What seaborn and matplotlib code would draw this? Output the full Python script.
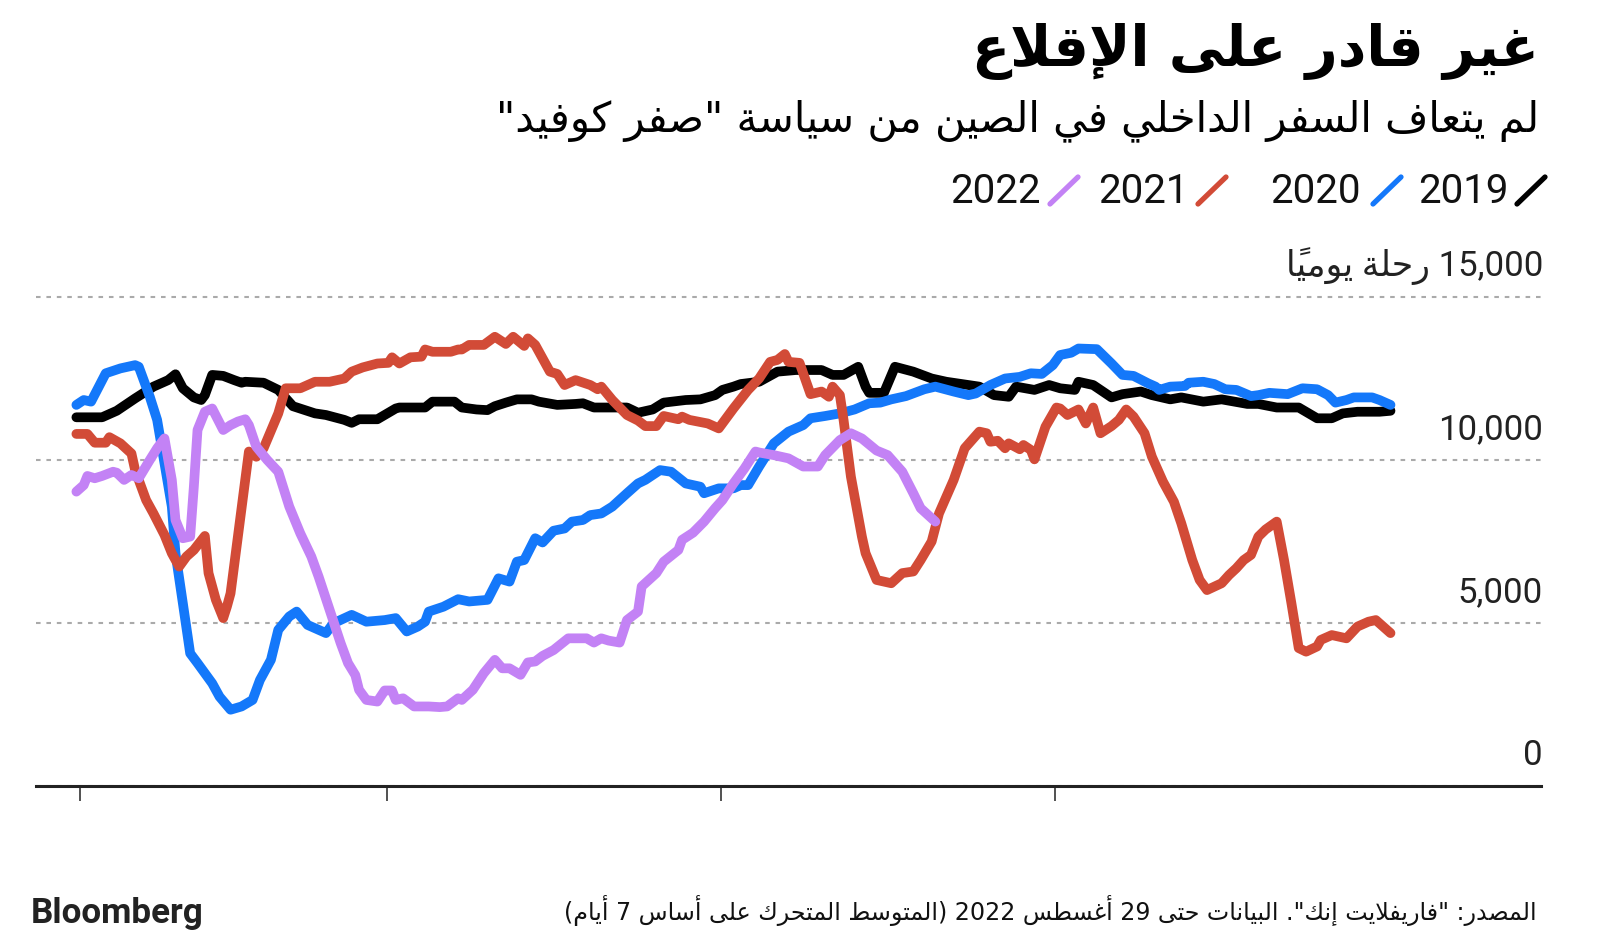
import re
import numpy as np
import pandas as pd
import matplotlib
matplotlib.use("Agg")
import matplotlib.pyplot as plt
import matplotlib.transforms as mtransforms
from matplotlib.lines import Line2D
import seaborn as sns

# ---------------- data ----------------
years = ["2019", "2020", "2021", "2022"]
colors = ["#000000", "#1478fa", "#d24b37", "#c382f5"]

days_2019 = [0, 7, 11, 16, 21, 25, 27, 29, 32, 34, 35, 37, 40, 43, 45, 46, 51, 55, 59, 65,
             68, 73, 75, 77, 82, 87, 88, 95, 97, 103, 105, 109, 112, 114, 117, 120, 124, 126, 131, 136,
             138, 141, 150, 153, 157, 160, 166, 170, 174, 176, 179, 181, 186, 191, 196, 203, 206, 209, 213, 215,
             216, 220, 223, 228, 233, 237, 243, 246, 250, 254, 256, 261, 265, 268, 272, 273, 277, 282, 285, 290,
             293, 298, 301, 307, 312, 319, 322, 327, 333, 338, 342, 345, 349, 355, 358]
vals_2019 = [11310, 11310, 11510, 11890, 12250, 12450, 12630, 12200, 11920, 11840,
             11990, 12610, 12580, 12450, 12370, 12400, 12370, 12150, 11650, 11430,
             11380, 11230, 11140, 11250, 11250, 11580, 11610, 11610, 11790, 11790,
             11610, 11550, 11530, 11650, 11760, 11860, 11860, 11790, 11690, 11720,
             11740, 11610, 11610, 11450, 11550, 11760, 11840, 11860, 11990, 12150,
             12250, 12330, 12400, 12710, 12760, 12760, 12610, 12610, 12860, 12250,
             12060, 12060, 12860, 12710, 12500, 12400, 12300, 12250, 11990, 11940,
             12250, 12150, 12300, 12200, 12150, 12400, 12300, 11920, 12020, 12100,
             11990, 11860, 11920, 11790, 11860, 11720, 11720, 11610, 11610, 11280,
             11280, 11430, 11480, 11480, 11510]

days_2020 = [0, 2, 4, 8, 12, 16, 17, 20, 22, 24, 26, 27, 29, 31, 33, 37, 39, 42, 45, 48,
             50, 53, 55, 58, 60, 63, 65, 68, 70, 75, 79, 84, 87, 90, 93, 95, 96, 100, 104, 107,
             112, 115, 118, 120, 122, 125, 127, 130, 133, 135, 138, 140, 143, 146, 150, 153, 155, 159, 162, 166,
             170, 171, 175, 179, 181, 183, 186, 190, 194, 198, 200, 204, 208, 212, 216, 219, 222, 226, 231, 234,
             239, 243, 245, 249, 253, 257, 260, 263, 266, 268, 271, 273, 278, 282, 285, 288, 292, 294, 295, 298,
             302, 303, 307, 310, 313, 316, 320, 322, 325, 330, 334, 338, 341, 343, 346, 348, 353, 355, 358]
vals_2020 = [11690, 11840, 11790, 12660, 12810, 12910, 12860, 11940, 11230, 9900,
             8570, 7140, 5610, 4070, 3770, 3150, 2740, 2340, 2440, 2640,
             3250, 3870, 4790, 5200, 5350, 4940, 4840, 4690, 4990, 5250,
             5040, 5090, 5150, 4740, 4890, 5040, 5350, 5500, 5730, 5660,
             5710, 6370, 6270, 6880, 6930, 7600, 7470, 7830, 7900, 8110,
             8160, 8310, 8360, 8570, 8980, 9280, 9390, 9690, 9640, 9280,
             9180, 8980, 9130, 9130, 9230, 9230, 9800, 10510, 10870, 11070,
             11280, 11350, 11430, 11550, 11740, 11760, 11860, 11960, 12170, 12250,
             12100, 11990, 12040, 12300, 12500, 12550, 12660, 12640, 12910, 13220,
             13290, 13420, 13400, 12960, 12610, 12580, 12350, 12250, 12150, 12250,
             12270, 12370, 12400, 12330, 12170, 12150, 11960, 11990, 12060, 12020,
             12200, 12170, 11990, 11760, 11840, 11920, 11920, 11840, 11690]

days_2021 = [0, 3, 5, 8, 9, 12, 15, 16, 19, 21, 24, 26, 28, 30, 32, 35, 36, 38, 40, 41,
             42, 44, 46, 47, 49, 51, 55, 57, 61, 65, 69, 73, 75, 78, 82, 85, 86, 88, 91, 94,
             95, 97, 102, 104, 105, 107, 111, 114, 117, 119, 122, 123, 125, 129, 131, 133, 136, 140, 142, 143,
             146, 150, 153, 155, 158, 160, 164, 165, 167, 172, 175, 179, 183, 186, 189, 191, 193, 194, 197, 200,
             203, 205, 206, 208, 209, 211, 214, 215, 218, 222, 225, 228, 230, 233, 235, 239, 242, 246, 248, 249,
             251, 253, 254, 257, 258, 260, 261, 264, 267, 268, 270, 273, 275, 277, 279, 282, 284, 286, 288, 291,
             293, 296, 299, 301, 304, 306, 308, 312, 314, 316, 318, 320, 322, 324, 327, 329, 331, 333, 335, 338,
             339, 342, 346, 349, 352, 354, 358]
vals_2021 = [10800, 10800, 10530, 10530, 10700, 10510, 10200, 9690, 8770, 8360,
             7700, 7140, 6730, 7040, 7240, 7670, 6530, 5710, 5150, 5500,
             5910, 7650, 9390, 10260, 10100, 10360, 11430, 12200, 12200, 12400,
             12400, 12500, 12710, 12840, 12960, 12980, 13150, 12960, 13150, 13170,
             13390, 13320, 13320, 13390, 13390, 13530, 13530, 13780, 13560, 13780,
             13500, 13730, 13530, 12710, 12640, 12300, 12450, 12300, 12170, 12250,
             11840, 11380, 11210, 11040, 11040, 11350, 11250, 11330, 11230, 11120,
             10970, 11580, 12150, 12500, 13010, 13070, 13250, 13010, 12980, 12020,
             12100, 11940, 12250, 11990, 11230, 9490, 7650, 7140, 6320, 6220,
             6530, 6580, 6930, 7500, 8360, 9390, 10360, 10870, 10820, 10560,
             10590, 10360, 10510, 10330, 10460, 10310, 10020, 11020, 11610, 11580,
             11380, 11550, 11120, 11610, 10820, 11040, 11230, 11550, 11330, 10820,
             10100, 9340, 8720, 8060, 6930, 6320, 6010, 6220, 6470, 6680,
             6930, 7090, 7650, 7870, 8110, 6930, 5610, 4230, 4120, 4280,
             4480, 4630, 4530, 4890, 5040, 5090, 4690]

days_2022 = [0, 2, 3, 5, 7, 10, 11, 13, 15, 17, 20, 22, 24, 26, 27, 29, 31, 32, 33, 35,
             37, 40, 42, 44, 46, 47, 49, 52, 55, 58, 61, 64, 66, 69, 72, 74, 76, 77, 79, 82,
             84, 86, 87, 89, 92, 96, 99, 101, 104, 105, 108, 111, 114, 116, 118, 121, 123, 125, 127, 130,
             134, 139, 141, 143, 145, 148, 150, 153, 154, 158, 160, 164, 165, 168, 171, 174, 176, 179, 182, 185,
             186, 190, 194, 198, 202, 204, 208, 211, 214, 218, 221, 225, 228, 230, 234]
vals_2022 = [9030, 9230, 9510, 9440, 9510, 9640, 9610, 9390, 9540, 9440,
             10000, 10360, 10660, 9390, 8160, 7600, 7650, 9180, 10920, 11480,
             11580, 10920, 11070, 11180, 11250, 11070, 10410, 10000, 9640, 8570,
             7750, 7040, 6420, 5400, 4380, 3770, 3400, 2950, 2640, 2590,
             2930, 2930, 2640, 2690, 2440, 2440, 2420, 2440, 2690, 2640,
             2950, 3460, 3870, 3610, 3610, 3410, 3790, 3820, 3990, 4170,
             4530, 4530, 4400, 4530, 4460, 4400, 5090, 5350, 6120, 6530,
             6880, 7240, 7550, 7770, 8110, 8520, 8770, 9280, 9740, 10260,
             10230, 10150, 10050, 9800, 9800, 10150, 10610, 10820, 10660, 10290,
             10150, 9640, 8980, 8520, 8110]

series = {
    "2019": (days_2019, vals_2019),
    "2020": (days_2020, vals_2020),
    "2021": (days_2021, vals_2021),
    "2022": (days_2022, vals_2022),
}
y_ticks = [0, 5000, 10000, 15000]
x_ticks = [1, 84.5, 175.5, 266.5]
y_unit = "رحلة يومياً"

title_txt = "غير قادر على الإقلاع"
subtitle_txt = 'لم يتعاف السفر الداخلي في الصين من سياسة "صفر كوفيد"'
footer_txt = 'المصدر: "فاريفلايت إنك". البيانات حتى 29 أغسطس 2022 (المتوسط المتحرك على أساس 7 أيام)'
logo_txt = "Bloomberg"

# ---------------- minimal Arabic shaping + RTL ordering ----------------
_F = {  # isolated, final, initial, medial
    "\u0621": ("\uFE80", None, None, None),
    "\u0622": ("\uFE81", "\uFE82", None, None),
    "\u0623": ("\uFE83", "\uFE84", None, None),
    "\u0624": ("\uFE85", "\uFE86", None, None),
    "\u0625": ("\uFE87", "\uFE88", None, None),
    "\u0626": ("\uFE89", "\uFE8A", "\uFE8B", "\uFE8C"),
    "\u0627": ("\uFE8D", "\uFE8E", None, None),
    "\u0628": ("\uFE8F", "\uFE90", "\uFE91", "\uFE92"),
    "\u0629": ("\uFE93", "\uFE94", None, None),
    "\u062A": ("\uFE95", "\uFE96", "\uFE97", "\uFE98"),
    "\u062B": ("\uFE99", "\uFE9A", "\uFE9B", "\uFE9C"),
    "\u062C": ("\uFE9D", "\uFE9E", "\uFE9F", "\uFEA0"),
    "\u062D": ("\uFEA1", "\uFEA2", "\uFEA3", "\uFEA4"),
    "\u062E": ("\uFEA5", "\uFEA6", "\uFEA7", "\uFEA8"),
    "\u062F": ("\uFEA9", "\uFEAA", None, None),
    "\u0630": ("\uFEAB", "\uFEAC", None, None),
    "\u0631": ("\uFEAD", "\uFEAE", None, None),
    "\u0632": ("\uFEAF", "\uFEB0", None, None),
    "\u0633": ("\uFEB1", "\uFEB2", "\uFEB3", "\uFEB4"),
    "\u0634": ("\uFEB5", "\uFEB6", "\uFEB7", "\uFEB8"),
    "\u0635": ("\uFEB9", "\uFEBA", "\uFEBB", "\uFEBC"),
    "\u0636": ("\uFEBD", "\uFEBE", "\uFEBF", "\uFEC0"),
    "\u0637": ("\uFEC1", "\uFEC2", "\uFEC3", "\uFEC4"),
    "\u0638": ("\uFEC5", "\uFEC6", "\uFEC7", "\uFEC8"),
    "\u0639": ("\uFEC9", "\uFECA", "\uFECB", "\uFECC"),
    "\u063A": ("\uFECD", "\uFECE", "\uFECF", "\uFED0"),
    "\u0641": ("\uFED1", "\uFED2", "\uFED3", "\uFED4"),
    "\u0642": ("\uFED5", "\uFED6", "\uFED7", "\uFED8"),
    "\u0643": ("\uFED9", "\uFEDA", "\uFEDB", "\uFEDC"),
    "\u0644": ("\uFEDD", "\uFEDE", "\uFEDF", "\uFEE0"),
    "\u0645": ("\uFEE1", "\uFEE2", "\uFEE3", "\uFEE4"),
    "\u0646": ("\uFEE5", "\uFEE6", "\uFEE7", "\uFEE8"),
    "\u0647": ("\uFEE9", "\uFEEA", "\uFEEB", "\uFEEC"),
    "\u0648": ("\uFEED", "\uFEEE", None, None),
    "\u0649": ("\uFEEF", "\uFEF0", None, None),
    "\u064A": ("\uFEF1", "\uFEF2", "\uFEF3", "\uFEF4"),
}
_LAMALEF = {"\u0622": ("\uFEF5", "\uFEF6"), "\u0623": ("\uFEF7", "\uFEF8"),
            "\u0625": ("\uFEF9", "\uFEFA"), "\u0627": ("\uFEFB", "\uFEFC")}


def _jl(c):
    f = _F.get(c)
    return f is not None and f[2] is not None


def _jr(c):
    f = _F.get(c)
    return f is not None and f[1] is not None


def _shape(text):
    cl = []
    for ch in text:
        if "\u064B" <= ch <= "\u0652" and cl:
            cl[-1][1] += ch
        else:
            cl.append([ch, ""])
    out, i, n = [], 0, len(cl)
    while i < n:
        c, m = cl[i]
        prev_j = i > 0 and _jl(cl[i - 1][0])
        if c == "\u0644" and i + 1 < n and cl[i + 1][0] in _LAMALEF:
            iso, fin = _LAMALEF[cl[i + 1][0]]
            out.append((fin if prev_j else iso) + m + cl[i + 1][1])
            i += 2
            continue
        f = _F.get(c)
        if f is None:
            out.append(c + m)
            i += 1
            continue
        nxt_j = i + 1 < n and _jr(cl[i + 1][0]) and f[2] is not None
        p = prev_j and f[1] is not None
        if p and nxt_j:
            g = f[3]
        elif p:
            g = f[1]
        elif nxt_j:
            g = f[2]
        else:
            g = f[0]
        out.append(g + m)
        i += 1
    return out


def ar(text):
    parts = re.split(r"([0-9A-Za-z]+(?:[,.][0-9]+)*)", text)
    units = []
    for k, p in enumerate(parts):
        if k % 2 == 1:
            units.append(p)
        else:
            units.extend(_shape(p))
    mirror = {"(": ")", ")": "(", "[": "]", "]": "["}
    return "".join(mirror.get(u, u) for u in units[::-1])


# ---------------- figure ----------------
sns.set_style("white")
plt.rcParams["font.family"] = ["Roboto", "DejaVu Sans"]

W, H = 1600, 948
fig = plt.figure(figsize=(W / 100, H / 100), dpi=100)
fig.patch.set_facecolor("white")

ax_left, ax_right = 36, 1541
y0_px = 786
px_per_unit = 163 / 5000
ymax = 15500
ax_top = y0_px - ymax * px_per_unit
ax = fig.add_axes([ax_left / W, 1 - y0_px / H, (ax_right - ax_left) / W, (y0_px - ax_top) / H])

rows = []
for yr in years:
    d, v = series[yr]
    assert len(d) == len(v)
    rows.append(pd.DataFrame({"day": d, "value": v, "year": yr}))
df = pd.concat(rows, ignore_index=True)

sns.lineplot(data=df, x="day", y="value", hue="year", hue_order=years,
             palette=dict(zip(years, colors)), legend=False,
             estimator=None, sort=False, ax=ax)
for ln in ax.get_lines():
    ln.set_linewidth(7.0)
    ln.set_solid_capstyle("round")
    ln.set_solid_joinstyle("round")

ax.set_xlim(-11.0, 399.0)
ax.set_ylim(0, ymax)
ax.set_xlabel("")
ax.set_ylabel("")
for s in ["left", "right", "top"]:
    ax.spines[s].set_visible(False)
ax.spines["bottom"].set_color("#222222")
ax.spines["bottom"].set_linewidth(2.2)
ax.spines["bottom"].set_zorder(5)

ax.set_xticks(x_ticks)
ax.set_xticklabels([])
ax.tick_params(axis="x", direction="out", length=10.8, width=1.1, color="#222222", bottom=True)

ax.set_yticks(y_ticks)
ax.set_yticklabels([])
ax.tick_params(axis="y", left=False, right=False, length=0)
ax.yaxis.grid(True, color="#aaaaaa", linewidth=1.5, linestyle=(0, (2.2, 2.8)))
ax.xaxis.grid(False)
ax.set_axisbelow(True)

lab_trans = mtransforms.offset_copy(ax.get_yaxis_transform(), fig=fig, x=2, y=21, units="dots")
for v in y_ticks:
    s = f"{v:,}"
    if v == max(y_ticks):
        s = ar(s + " " + y_unit)
    ax.text(1.0, v, s, transform=lab_trans, ha="right", va="baseline",
            fontsize=25, color="#222222", family=["Roboto", "DejaVu Sans"])

# ---------------- titles ----------------
title = fig.text(1539 / W, 1 - 51 / H, ar(title_txt), ha="right", va="center",
                 fontsize=44, fontweight="bold", color="#000000", family=["DejaVu Sans"])
subtitle = fig.text(1539 / W, 1 - 121 / H, ar(subtitle_txt), ha="right", va="center",
                    fontsize=28, color="#000000", family=["DejaVu Sans"])

# legend
legend_text_right = [1508, 1361, 1189, 1041]
legend_slash_x = [1517, 1373, 1198, 1050]
for yr, col, tx, sx in zip(years, colors, legend_text_right, legend_slash_x):
    fig.text(tx / W, 1 - 203 / H, yr, ha="right", va="baseline", fontsize=29,
             color="#111111", family=["Roboto", "DejaVu Sans"])
    fig.add_artist(Line2D([sx / W, (sx + 28) / W], [1 - 204 / H, 1 - 177 / H],
                          transform=fig.transFigure, color=col, linewidth=3.8,
                          solid_capstyle="round"))

footer = fig.text(1537 / W, 1 - 911 / H, ar(footer_txt), ha="right", va="center",
                  fontsize=18, color="#111111", family=["DejaVu Sans"])
logo = fig.text(31 / W, 1 - 914 / H, logo_txt, ha="left", va="center", fontsize=25,
                fontweight="bold", color="#222222", family=["Roboto", "DejaVu Sans"])

fig.canvas.draw()
r = fig.canvas.get_renderer()
for t, w in [(title, 567), (subtitle, 1046), (footer, 973), (logo, 173)]:
    bb = t.get_window_extent(r)
    t.set_fontsize(t.get_fontsize() * w / bb.width)

fig.savefig("out.png", dpi=100, facecolor="white")
